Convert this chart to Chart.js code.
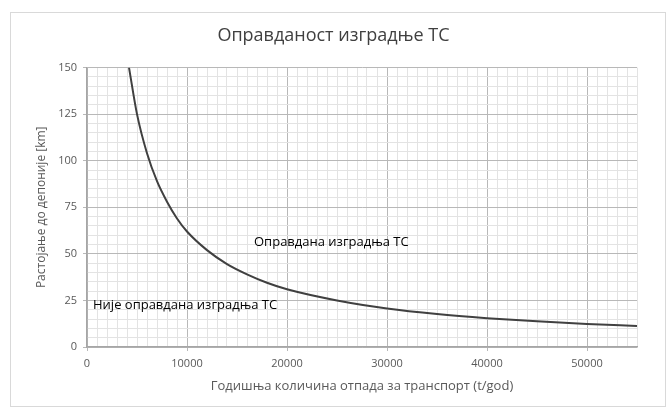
<!DOCTYPE html>
<html>
<head>
<meta charset="utf-8">
<script src="https://cdn.jsdelivr.net/npm/chart.js@4.4.1/dist/chart.umd.min.js"></script>
<style>
  html, body { margin: 0; padding: 0; background: #ffffff; }
  #wrap { position: relative; width: 668px; height: 411px; }
  #frame { position: absolute; left: 10px; top: 12px; width: 656px; height: 395px; border: 1px solid #d9d9d9; box-sizing: border-box; pointer-events: none; }
  canvas { position: absolute; left: 0; top: 0; }
</style>
</head>
<body>
<div id="wrap">
  <canvas id="c" width="668" height="411"></canvas>
  <div id="frame"></div>
</div>
<script>
// ---- data ----
const chartTitle = 'Оправданост изградње ТС';
const xAxisTitle = 'Годишња количина отпада за транспорт (t/god)';
const yAxisTitle = 'Растојање до депоније [km]';

const quantity = [4200, 5000, 6000, 7000, 8000, 9000, 10000, 12000, 14000, 16000, 18000, 20000, 25000, 30000, 35000, 40000, 45000, 50000, 55000];
const distance = [150, 125, 104, 89, 78, 69, 62, 52, 44.5, 39, 34.5, 31, 25, 20.7, 17.7, 15.5, 13.8, 12.4, 11.3];

const xMin = 0, xMax = 55000, xMajor = 10000, xMinor = 1000;
const yMin = 0, yMax = 150, yMajor = 25, yMinor = 5;

const labels = [
  { text: 'Оправдана изградња ТС', x: 16700, y: 56 },
  { text: 'Није оправдана изградња ТС', x: 600, y: 22.5 }
];

const points = quantity.map((q, i) => ({ x: q, y: distance[i] }));

const FONT = "'Open Sans', 'Liberation Sans', sans-serif";

const textPlugin = {
  id: 'regionText',
  afterDatasetsDraw(chart) {
    const { ctx, scales } = chart;
    ctx.save();
    ctx.font = '13px ' + FONT;
    ctx.fillStyle = '#000000';
    ctx.textAlign = 'left';
    ctx.textBaseline = 'middle';
    labels.forEach(l => {
      ctx.fillText(l.text, scales.x.getPixelForValue(l.x), scales.y.getPixelForValue(l.y));
    });
    ctx.restore();
  }
};

const isMajor = (v, step) => Math.abs(v / step - Math.round(v / step)) < 1e-6;

new Chart(document.getElementById('c'), {
  type: 'scatter',
  data: {
    datasets: [{
      data: points,
      showLine: true,
      borderColor: '#404040',
      borderWidth: 2,
      pointRadius: 0,
      tension: 0.4,
      cubicInterpolationMode: 'monotone',
      fill: false
    }]
  },
  options: {
    responsive: false,
    animation: false,
    layout: { padding: { left: 30, right: 31, top: 0, bottom: 14 } },
    plugins: {
      legend: { display: false },
      tooltip: { enabled: false },
      title: {
        display: true,
        text: chartTitle,
        color: '#404040',
        font: { family: FONT, size: 18, weight: 'normal' },
        padding: { top: 25, bottom: 21 }
      }
    },
    scales: {
      x: {
        type: 'linear',
        min: xMin, max: xMax,
        afterFit(s) { s.height = 50; },
        ticks: {
          stepSize: xMinor,
          autoSkip: false,
          maxRotation: 0,
          padding: 6,
          color: '#595959',
          font: { family: FONT, size: 11 },
          callback: v => isMajor(v, xMajor) ? String(v) : ''
        },
        grid: {
          color: c => isMajor(c.tick.value, xMajor) ? '#b8b8b8' : '#e3e3e3',
          tickColor: c => isMajor(c.tick.value, xMajor) ? '#b8b8b8' : 'rgba(0,0,0,0)',
          tickLength: 4
        },
        border: { color: '#a6a6a6', width: 1.5 },
        title: {
          display: true, text: xAxisTitle, color: '#595959',
          font: { family: FONT, size: 13 }, padding: { top: 4, bottom: 3 }
        }
      },
      y: {
        type: 'linear',
        min: yMin, max: yMax,
        afterFit(s) { s.width = 57; },
        ticks: {
          stepSize: yMinor,
          autoSkip: false,
          padding: 6,
          color: '#595959',
          font: { family: FONT, size: 11 },
          callback: v => isMajor(v, yMajor) ? String(v) : ''
        },
        grid: {
          color: c => isMajor(c.tick.value, yMajor) ? '#b8b8b8' : '#e3e3e3',
          tickColor: c => isMajor(c.tick.value, yMajor) ? '#b8b8b8' : 'rgba(0,0,0,0)',
          tickLength: 4
        },
        border: { color: '#a6a6a6', width: 1.5 },
        title: {
          display: true, text: yAxisTitle, color: '#595959',
          font: { family: FONT, size: 12 }, padding: { top: 4, bottom: 4 }
        }
      }
    }
  },
  plugins: [textPlugin]
});
</script>
</body>
</html>
